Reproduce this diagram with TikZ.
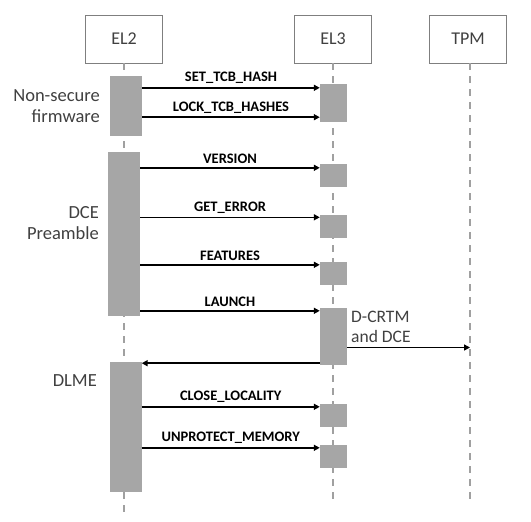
\documentclass[tikz,border=0pt]{standalone}
\usepackage{fontspec}
\setmainfont{Carlito}
\usetikzlibrary{arrows.meta}
\definecolor{bargray}{HTML}{A6A6A6}
\definecolor{linegray}{HTML}{A0A0A0}
\definecolor{boxgray}{HTML}{7F7F7F}
\definecolor{txtgray}{HTML}{404040}
\begin{document}
\begin{tikzpicture}[x=1pt,y=-1pt]

        \useasboundingbox[fill=white] (0,0) rectangle (531,522);

        % lifeline heads
        \begin{scope}[every node/.style={draw=boxgray,line width=.8pt,minimum width=77pt,minimum height=48pt,
            text=txtgray,font=\fontsize{18}{21}\selectfont}]
          \node (el2) at (124,39)  {EL2};
          \node (el3) at (333,39)  {EL3};
          \node (tpm) at (468,39)  {TPM};
        \end{scope}

        \coordinate (el2end) at (124,512);
        \coordinate (el3end) at (333,505);
        \coordinate (tpmend) at (470,503);

        \begin{scope}[line width=1.4pt,draw=linegray,dash pattern=on 7pt off 6pt]
          \draw (el2.south) -- (el2end);
          \draw (el3.south) -- (el3end);
          \draw ([xshift=2pt]tpm.south) -- (tpmend);
        \end{scope}

        % activation bars
        \begin{scope}[every node/.style={fill=bargray,inner sep=0pt,minimum width=32pt}]
          \node[minimum height=60pt]  (n1) at (126,106)   {};
          \node[minimum height=164pt] (n2) at (124,234)   {};
          \node[minimum height=130pt] (n3) at (125.5,427) {};
        \end{scope}

        \begin{scope}[every node/.style={fill=bargray,inner sep=0pt,minimum width=27pt,minimum height=23pt}]
          \node[minimum height=38pt] (e1) at (333.5,103)   {};
          \node                      (e2) at (333.5,175.5) {};
          \node                      (e3) at (333.5,226)   {};
          \node                      (e4) at (333.5,273.5) {};
          \node[minimum height=57pt] (e5) at (333.5,336.5) {};
          \node                      (e6) at (333.5,415.5) {};
          \node                      (e7) at (333.5,456.5) {};
        \end{scope}

        % message ends on the EL3 bars
        \coordinate (m1) at ([yshift=-4pt]e1.north west);
        \coordinate (m2) at ([yshift=5pt]e1.south west);
        \coordinate (m3) at ([yshift=-4pt]e2.north west);
        \coordinate (m4) at ([yshift=-3pt]e3.north west);
        \coordinate (m5) at ([yshift=-3pt]e4.north west);
        \coordinate (m6) at ([yshift=-3pt]e5.north west);
        \coordinate (m7) at ([yshift=-11pt]e5.east);
        \coordinate (m8) at ([yshift=2pt]e5.south west);
        \coordinate (m9) at ([yshift=-3pt]e6.north west);
        \coordinate (m10) at ([yshift=-3pt]e7.north west);

        \begin{scope}[every node/.style={above,inner sep=3pt,font=\bfseries\fontsize{14.5}{17}\selectfont}]

          \begin{scope}[every edge/.style={draw,line width=1.6pt,-{Triangle[length=6pt,width=6pt]}}]
            \path (n1.east |- m1)  edge node {SET\_TCB\_HASH}     (m1);
            \path (n1.east |- m2)  edge node {LOCK\_TCB\_HASHES}  (m2);
            \path (n2.east |- m3)  edge node {VERSION}            (m3);
            \path (n2.east |- m4)  edge node {GET\_ERROR}         (m4);
            \path (n2.east |- m5)  edge node {FEATURES}           (m5);
            \path (n2.east |- m6)  edge node {LAUNCH}             (m6);
            \path (m7)             edge (tpmend |- m7);
            \path (m8)             edge (n3.east |- m8);
            \path (n3.east |- m9)  edge node {CLOSE\_LOCALITY}    (m9);
            \path (n3.east |- m10) edge node {UNPROTECT\_MEMORY}  (m10);
          \end{scope}
        \end{scope}

        % phase labels
        \begin{scope}[every node/.style={text=txtgray,inner sep=0pt,font=\fontsize{18.5}{21.5}\selectfont}]
          \node[anchor=east,align=right] (ns)   at (100,106) {Non-secure\\firmware};
          \node[anchor=east,align=right] (dce)  at (99,223)  {DCE\\Preamble};
          \node[anchor=east]             (dlme) at (97,381)  {DLME};
          \node[anchor=west,align=left,font=\fontsize{17.5}{19.5}\selectfont] (crtm) at (351,327) {D-CRTM\\and DCE};
        \end{scope}

      \end{tikzpicture}
\end{document}
